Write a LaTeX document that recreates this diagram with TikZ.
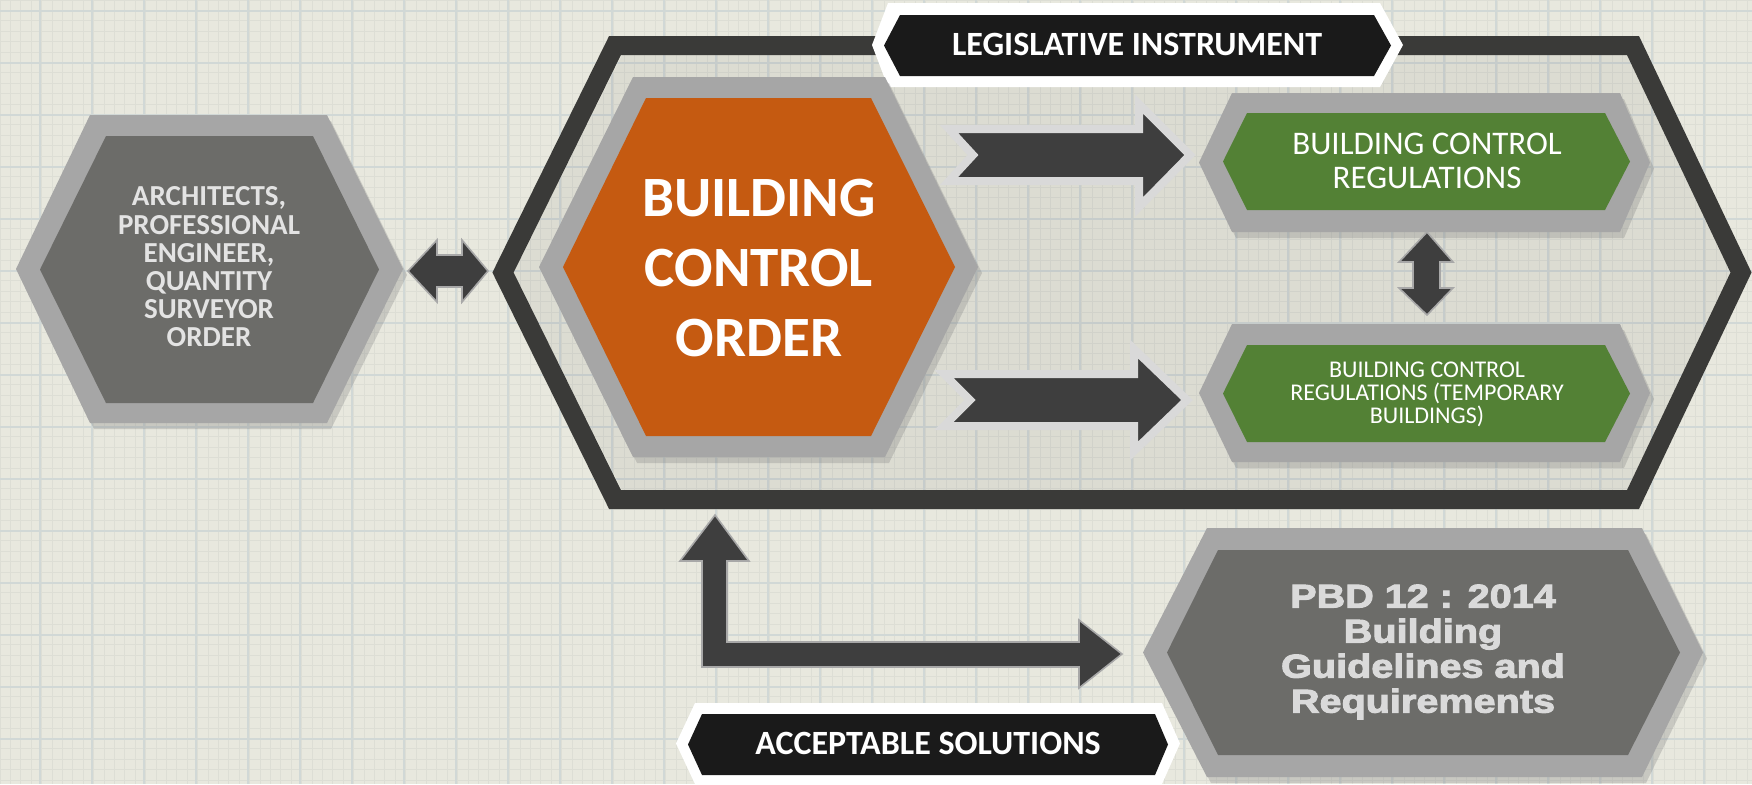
\documentclass[tikz,border=0pt]{standalone}
\usepackage{fontspec}
\setmainfont{Carlito}
\newfontfamily\pbdfont[FakeStretch=1.2,FakeBold=3]{Liberation Sans}
\usetikzlibrary{shadows}
\definecolor{bgc}{HTML}{E8E8DE}
\definecolor{gridmin}{HTML}{DDDED5}
\definecolor{gridmaj}{HTML}{D1D8D6}
\definecolor{framec}{HTML}{3A3A38}
\definecolor{bandc}{HTML}{A6A6A6}
\definecolor{orangec}{HTML}{C55A11}
\definecolor{greenc}{HTML}{538135}
\definecolor{hexdark}{HTML}{6C6C69}
\definecolor{tagblack}{HTML}{1A1A1A}
\definecolor{arrowdark}{HTML}{3E3E3E}
\definecolor{arrowlight}{HTML}{D9D9D9}
\definecolor{arrowedge}{HTML}{A8A8A8}
\definecolor{lighttext}{HTML}{E3E3E3}
\definecolor{pbdtextc}{HTML}{DADADA}
% [opts]{x left}{x top-left}{x top-right}{x right}{y top}{y bottom}
\newcommand\hexshape[7][]{\path[#1] (#2,{(#6+#7)/2}) -- (#3,#6) -- (#4,#6) -- (#5,{(#6+#7)/2}) -- (#4,#7) -- (#3,#7) -- cycle;}
\tikzset{
  gridminor/.style={draw=gridmin, line width=0.35pt},
  gridmajor/.style={draw=gridmaj, line width=0.6pt},
  bandshadow/.style={drop shadow={opacity=0.3, shadow xshift=2pt, shadow yshift=-3pt}},
  blockarrow/.style={fill=arrowdark, draw=arrowedge, line width=0.8pt, line join=miter},
  notcharrow/.style={fill=arrowdark, draw=arrowlight, line width=4pt, line join=miter},
  tagtext/.style={text=white, font=\bfseries\fontsize{17}{20}\selectfont, inner sep=0pt},
  lefttext/.style={text=lighttext, align=center, inner sep=0pt, font=\bfseries\fontsize{14.5}{14.1}\selectfont},
  greentext/.style={text=white, align=center, inner sep=0pt},
  pbdtext/.style={text=pbdtextc, align=center, inner sep=0pt, font=\pbdfont\bfseries\fontsize{16.5}{17.5}\selectfont}
}
\begin{document}
\begin{tikzpicture}[x=0.5pt,y=-0.5pt,line join=miter]
\useasboundingbox (0,0) rectangle (1752,784);
% paper background
\fill[bgc] (0,0) rectangle (1752,784);
\foreach \i in {0,...,168} \draw[gridminor] ({\i*10.4},0) -- ({\i*10.4},784);
\foreach \j in {0,...,75} \draw[gridminor] (0,{\j*10.4}) -- (1752,{\j*10.4});
\foreach \i in {0,...,33} \draw[gridmajor] ({\i*52+40},0) -- ({\i*52+40},784);
\foreach \j in {0,...,15} \draw[gridmajor] (0,{\j*52+11}) -- (1752,{\j*52+11});

% big frame (legislative instrument)
\hexshape[fill=black, fill opacity=0.05]{513}{622}{1627}{1732}{55}{490}
\hexshape[draw=framec, line width=9.5pt]{503}{615}{1633}{1741}{45.5}{499.5}
\coordinate (frame) at (1120,272);

% legislative instrument tag
\hexshape[fill=white]{872}{888}{1380}{1403}{3}{87}
\hexshape[fill=tagblack]{884}{900}{1374}{1391}{15}{76}
\node[tagtext, anchor=base] (legis) at (1137,55) {LEGISLATIVE INSTRUMENT};

% left hexagon
\hexshape[fill=bandc, bandshadow]{16}{90}{327}{403}{115}{423}
\hexshape[fill=hexdark]{40}{106}{313}{379}{136}{403}
\node[lefttext] (prof) at (209,267) {ARCHITECTS,\\PROFESSIONAL\\ENGINEER,\\QUANTITY\\SURVEYOR\\ORDER};

% left double arrow
\draw[blockarrow] (408,271) -- (437,240) -- (437,255) -- (462,255) -- (462,240) -- (488,271)
  -- (462,302) -- (462,287) -- (437,287) -- (437,302) -- cycle;

% building control order
\hexshape[fill=bandc, bandshadow]{539}{633}{885}{978}{77}{457}
\hexshape[fill=orangec]{563}{646}{871}{955}{98}{436}
\node[text=white, align=center, inner sep=0pt, font=\bfseries\fontsize{28.5}{35}\selectfont] (bco) at (759,268) {BUILDING\\CONTROL\\ORDER};

% notched arrows
\draw[notcharrow] (949,129) -- (1139,129) -- (1139,104) -- (1190,155) -- (1139,207) -- (1139,181) -- (949,181) -- (973,155) -- cycle;
\draw[notcharrow] (944,374) -- (1134,374) -- (1134,349) -- (1187,400) -- (1134,451) -- (1134,426) -- (944,426) -- (970,400) -- cycle;

% building control regulations
\hexshape[fill=bandc, bandshadow]{1199}{1232}{1620}{1650}{93}{232}
\hexshape[fill=greenc]{1223}{1247}{1605}{1630}{113}{210}
\node[greentext, font=\fontsize{16.5}{17}\selectfont] (bcr) at (1427,161) {BUILDING CONTROL\\REGULATIONS};

% vertical double arrow
\draw[blockarrow] (1427,232) -- (1453,262) -- (1440,262) -- (1440,288) -- (1453,288) -- (1427,315)
  -- (1399,288) -- (1413,288) -- (1413,262) -- (1399,262) -- cycle;

% building control regulations (temporary buildings)
\hexshape[fill=bandc, bandshadow]{1199}{1232}{1620}{1650}{324}{462}
\hexshape[fill=greenc]{1223}{1247}{1605}{1630}{345}{442}
\node[greentext, font=\fontsize{12}{11.5}\selectfont] (bcrt) at (1427,394) {BUILDING CONTROL\\REGULATIONS (TEMPORARY\\BUILDINGS)};

% L-shaped arrow
\draw[blockarrow] (702,667) -- (702,561) -- (680,561) -- (715,515) -- (749,561) -- (727,561) -- (727,642)
  -- (1079,642) -- (1079,620) -- (1122,654) -- (1079,688) -- (1079,667) -- cycle;

% PBD hexagon
\hexshape[fill=bandc, bandshadow]{1143}{1207}{1642}{1703}{528}{777}
\hexshape[fill=hexdark]{1167}{1218}{1628}{1680}{550}{755}
\node[pbdtext] (pbd) at (1423,652) {PBD 12 : 2014\\Building\\Guidelines and\\Requirements};

% acceptable solutions tag
\hexshape[fill=white]{676}{695}{1162}{1180}{703}{784}
\hexshape[fill=tagblack]{688}{702}{1155}{1168}{714}{775}
\node[tagtext, anchor=base] (accept) at (928,754) {ACCEPTABLE SOLUTIONS};
\end{tikzpicture}
\end{document}
